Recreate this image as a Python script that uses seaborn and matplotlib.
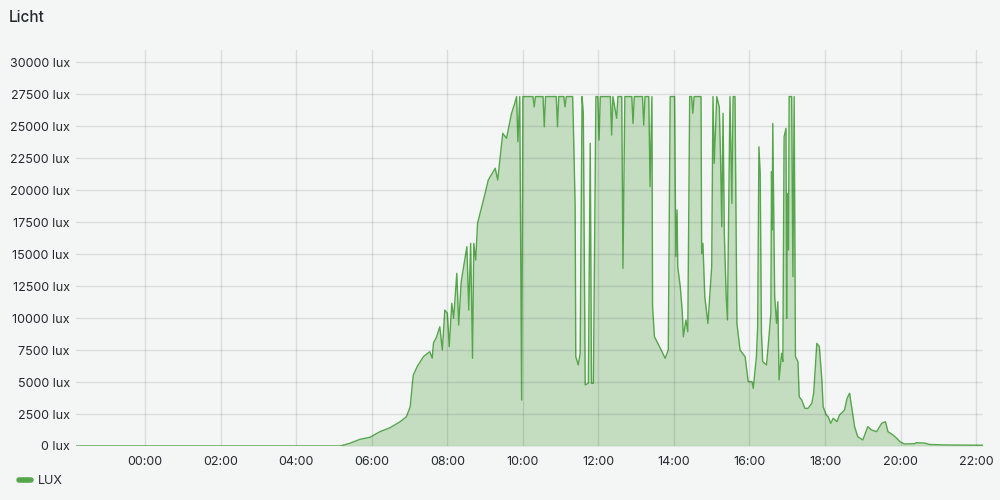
import pandas as pd
import matplotlib.pyplot as plt
import matplotlib.dates as mdates
from matplotlib.lines import Line2D
from matplotlib.ticker import FuncFormatter
import seaborn as sns

# Messwerte (Uhrzeit relativ zu Mitternacht, Lux)
CAP = 27300
times = [
    "-01:50", "05:10", "05:25", "05:41", "05:57", "06:13", "06:29", "06:45", "06:55", "07:01",
    "07:05", "07:06", "07:12", "07:22", "07:32", "07:36", "07:38", "07:43", "07:48", "07:52",
    "07:56", "08:00", "08:03", "08:07", "08:10", "08:15", "08:18", "08:22", "08:31", "08:34",
    "08:37", "08:40", "08:42", "08:45", "08:48", "08:52", "09:00", "09:05", "09:16", "09:20",
    "09:24", "09:28", "09:34", "09:42", "09:47", "09:50", "09:52", "09:55", "09:58", "10:00",
    "10:16", "10:18", "10:20", "10:32", "10:34", "10:36", "10:53", "10:55", "10:57", "11:05",
    "11:07", "11:09", "11:19", "11:20", "11:23", "11:24", "11:28", "11:31", "11:34", "11:36",
    "11:39", "11:44", "11:47", "11:49", "11:52", "11:56", "11:59", "12:01", "12:03", "12:19",
    "12:21", "12:23", "12:29", "12:31", "12:37", "12:39", "12:42", "12:53", "12:55", "12:57",
    "13:10", "13:12", "13:14", "13:20", "13:22", "13:25", "13:26", "13:29", "13:33", "13:41",
    "13:46", "13:51", "13:54", "14:01", "14:03", "14:05", "14:06", "14:10", "14:13", "14:15",
    "14:19", "14:22", "14:25", "14:28", "14:30", "14:32", "14:43", "14:44", "14:46", "14:49",
    "14:54", "15:00", "15:02", "15:04", "15:08", "15:12", "15:14", "15:16", "15:18", "15:20",
    "15:23", "15:25", "15:29", "15:32", "15:34", "15:37", "15:40", "15:45", "15:53", "15:58",
    "16:04", "16:06", "16:11", "16:13", "16:15", "16:17", "16:19", "16:21", "16:27", "16:31",
    "16:34", "16:35", "16:36", "16:37", "16:40", "16:43", "16:45", "16:47", "16:51", "16:53",
    "16:55", "16:58", "16:59", "17:00", "17:02", "17:03", "17:07", "17:09", "17:11", "17:13",
    "17:17", "17:19", "17:23", "17:28", "17:33", "17:39", "17:42", "17:47", "17:51", "17:55",
    "17:57", "18:02", "18:05", "18:09", "18:13", "18:19", "18:23", "18:31", "18:35", "18:39",
    "18:43", "18:47", "18:52", "19:00", "19:08", "19:14", "19:22", "19:30", "19:36", "19:40",
    "19:48", "19:54", "19:59", "20:06", "20:22", "20:25", "20:38", "20:46", "21:13", "22:11",
]
lux = [
    0, 0, 210, 520, 680, 1120, 1430, 1900, 2290, 3070,
    5160, 5550, 6200, 6980, 7370, 6870, 8050, 8540, 9320, 7500,
    10625, 10370, 7760, 11150, 9970, 13490, 9450, 12840, 15570, 10625,
    15830, 6850, 15830, 14530, 17400, 18180, 19740, 20780, 21700, 20780,
    22600, 24430, 24040, 25990, 26770, CAP, 23770, CAP, 3590, CAP,
    CAP, 26500, CAP, CAP, 24940, CAP, CAP, 24940, CAP, CAP,
    26500, CAP, CAP, 25470, 18700, 6980, 6330, 7240, CAP, 25990,
    4770, 4900, 23650, 4900, 4900, CAP, CAP, 23900, CAP, CAP,
    24300, CAP, 25600, CAP, CAP, 13880, CAP, CAP, 25200, CAP,
    CAP, 25070, CAP, CAP, 20260, CAP, 10880, 8540, 8150, 7370,
    6850, 7500, CAP, CAP, 14790, 18440, 14010, 12450, 10625, 8540,
    9840, 8930, CAP, CAP, 25990, CAP, CAP, 15050, 15830, 11660,
    9580, 14010, CAP, 22080, CAP, 26500, 22600, 17130, 25990, 16610,
    11660, 9840, CAP, 18960, CAP, CAP, 9580, 7500, 6980, 5030,
    5030, 4500, 6980, 9320, 23380, 21300, 8800, 6590, 6330, 8540,
    10400, 21430, 16880, 25200, 11660, 9580, 11270, 5160, 7240, 6590,
    24170, 24820, 9970, 19740, 15310, CAP, CAP, 13230, CAP, 6980,
    6590, 3850, 3590, 2940, 2940, 3330, 4120, 8020, 7760, 5160,
    3070, 2420, 2290, 1770, 2160, 1900, 2420, 2810, 3720, 4120,
    2810, 1510, 730, 470, 1510, 1250, 1120, 1770, 1900, 1120,
    860, 600, 340, 160, 180, 260, 230, 120, 80, 60,
]
y_ticks = list(range(0, 30001, 2500))

base = pd.Timestamp("2024-06-02")
df = pd.DataFrame({
    "time": [base + pd.to_timedelta(t + ":00") for t in times],
    "lux": lux,
})

sns.set_theme(style="white")
plt.rcParams["font.family"] = ["Inter", "DejaVu Sans"]

bg = "#f4f5f5"
green = "#56a64b"
text_col = "#24292e"

fig = plt.figure(figsize=(10, 5), dpi=100, facecolor=bg)
ax = fig.add_axes([0.076, 0.108, 0.907, 0.792], facecolor=bg)

# Fläche unter der Kurve + Linie
ax.fill_between(df["time"], df["lux"], 0, color=green, alpha=0.3, lw=0, zorder=1)
sns.lineplot(data=df, x="time", y="lux", color=green, linewidth=1, ax=ax, zorder=2, legend=False)

ax.set_xlim(base + pd.to_timedelta("-01:50:00"), base + pd.to_timedelta("22:11:00"))
ax.set_ylim(0, 30940)
ax.set_yticks(y_ticks)
ax.yaxis.set_major_formatter(FuncFormatter(lambda v, p: f"{int(v)} lux"))
ax.xaxis.set_major_locator(mdates.HourLocator(byhour=range(0, 24, 2)))
ax.xaxis.set_major_formatter(mdates.DateFormatter("%H:%M"))

ax.grid(True, color="#000000", alpha=0.1, linewidth=1, zorder=3)
ax.set_axisbelow(False)
for s in ax.spines.values():
    s.set_visible(False)
ax.tick_params(axis="both", length=0, labelsize=9, colors=text_col)
ax.tick_params(axis="y", pad=4.5)
ax.tick_params(axis="x", pad=7)
ax.set_xlabel("")
ax.set_ylabel("")

fig.text(0.009, 0.966, "Licht", fontsize=11, fontweight="medium", color=text_col, va="center", ha="left")

handle = Line2D([], [], color=green, linewidth=4, solid_capstyle="round")
fig.legend([handle], ["LUX"], loc="center left", bbox_to_anchor=(0.008, 0.038),
           frameon=False, handlelength=0.9, handletextpad=0.6, fontsize=9,
           labelcolor=text_col)

fig.savefig("out.png", dpi=100, facecolor=bg)
